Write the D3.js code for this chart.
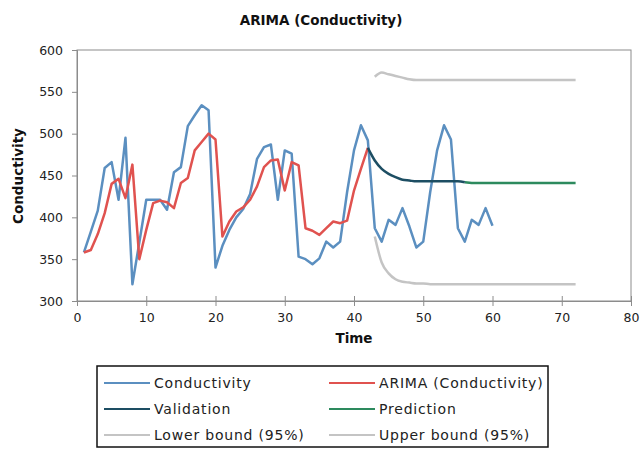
<!DOCTYPE html>
<html><head><meta charset="utf-8">
<script src="https://cdn.jsdelivr.net/npm/d3@7"></script>
<style>body{margin:0;background:#fff}svg{display:block}text{font-family:"DejaVu Sans",Verdana,sans-serif}</style>
</head><body><svg id="c" width="641" height="454"></svg>
<script>
const condTime = d3.range(1, 61);
const conductivity = [358,383,408,459,466,421,495,320,370,421,421,421,409,454,460,509,522,534,528,340,
  366,385,400,410,428,470,484,487,421,480,476,353,350,344,351,371,364,371,430,480,
  510,492,387,371,397,391,411,389,364,371,430,480,510,493,387,371,397,391,411,390];
const arimaTime = d3.range(1, 43);
const arima = [358,361,380,405,440,446,423,463,350,385,417,420,418,411,441,447,480,490,500,493,
  377,395,407,412,421,437,460,468,469,432,466,462,387,384,379,387,395,393,396,432,458,483];
const validationTime = d3.range(42, 57);
const validation = [483,468,458,452,448,445,444,443,443,443,443,443,443,443,442];
const predictionTime = d3.range(56, 73);
const prediction = [442,441,441,441,441,441,441,441,441,441,441,441,441,441,441,441,441];
const boundTime = d3.range(43, 73);
const lowerBound = [377,346,333,326,323,322,321,321,320,320,320,320,320,320,320,320,320,320,320,320,320,320,320,320,320,320,320,320,320,320];
const upperBound = [568,573,571,569,567,565,564,564,564,564,564,564,564,564,564,564,564,564,564,564,564,564,564,564,564,564,564,564,564,564];
const xTicks = [0,10,20,30,40,50,60,70,80];
const yTicks = [300,350,400,450,500,550,600];
const seriesNames = ["Conductivity","ARIMA (Conductivity)","Validation","Prediction","Lower bound (95%)","Upper bound (95%)"];
const seriesColors = ["#5b8fc0","#e0524f","#1d4e63","#2d8a5e","#c4c4c4","#c4c4c4"];

const svg = d3.select("#c");
const L = 77, R = 631, T = 50, B = 301;
const x = d3.scaleLinear().domain([0, 80]).range([L, R]);
const y = d3.scaleLinear().domain([300, 600]).range([B, T]);
const axisColor = "#8c8c8c";

svg.append("rect").attr("x", L).attr("y", T).attr("width", R - L).attr("height", B - T)
  .attr("fill", "none").attr("stroke", axisColor).attr("stroke-width", 1);

const ya = svg.append("g").attr("transform", `translate(${L},0)`)
  .call(d3.axisLeft(y).tickValues(yTicks).tickSize(5).tickPadding(9));
const xa = svg.append("g").attr("transform", `translate(0,${B})`)
  .call(d3.axisBottom(x).tickValues(xTicks).tickSize(5).tickPadding(7));
xa.selectAll(".tick line").attr("y1", -5);
[ya, xa].forEach(a => {
  a.select(".domain").attr("stroke", axisColor);
  a.selectAll(".tick line").attr("stroke", axisColor);
  a.selectAll("text").attr("font-size", 12.5).attr("fill", "#222");
});

const line = d3.line().x(d => x(d[0])).y(d => y(d[1]));
const smooth = d3.line().x(d => x(d[0])).y(d => y(d[1])).curve(d3.curveMonotoneX);
const zip = (a, b) => a.map((t, i) => [t, b[i]]);

const draw = (data, color, gen) => svg.append("path").datum(data).attr("d", gen)
  .attr("fill", "none").attr("stroke", color).attr("stroke-width", 2.5)
  .attr("stroke-linejoin", "round");

draw(zip(boundTime, upperBound), seriesColors[5], smooth);
draw(zip(boundTime, lowerBound), seriesColors[4], smooth);
draw(zip(condTime, conductivity), seriesColors[0], line);
draw(zip(arimaTime, arima), seriesColors[1], line);
draw(zip(predictionTime, prediction), seriesColors[3], line);
draw(zip(validationTime, validation), seriesColors[2], smooth);

svg.append("text").attr("x", 321).attr("y", 25).attr("text-anchor", "middle")
  .attr("font-weight", "bold").attr("font-size", 13.5).attr("fill", "#111").text("ARIMA (Conductivity)");
svg.append("text").attr("x", 354).attr("y", 343).attr("text-anchor", "middle")
  .attr("font-weight", "bold").attr("font-size", 13.5).attr("fill", "#111").text("Time");
svg.append("text").attr("transform", "translate(23,176) rotate(-90)").attr("text-anchor", "middle")
  .attr("font-weight", "bold").attr("font-size", 13.5).attr("fill", "#111").text("Conductivity");

const lg = svg.append("g");
svg.append("clipPath").attr("id", "lc").append("rect").attr("x", 97).attr("y", 366).attr("width", 452).attr("height", 81);
lg.append("rect").attr("x", 97).attr("y", 366).attr("width", 451).attr("height", 81)
  .attr("fill", "#fff").attr("stroke", "#111").attr("stroke-width", 1.5);
const items = lg.append("g").attr("clip-path", "url(#lc)");
seriesNames.forEach((n, i) => {
  const col = i % 2, row = Math.floor(i / 2);
  const lx = col === 0 ? 104 : 329, cy = 383 + row * 26;
  items.append("line").attr("x1", lx).attr("x2", lx + 46).attr("y1", cy).attr("y2", cy)
    .attr("stroke", seriesColors[i]).attr("stroke-width", 2);
  items.append("text").attr("x", lx + 50).attr("y", cy).attr("dy", "0.36em")
    .attr("font-size", 14).attr("letter-spacing", 0.8).attr("fill", "#222").text(n);
});
</script></body></html>
